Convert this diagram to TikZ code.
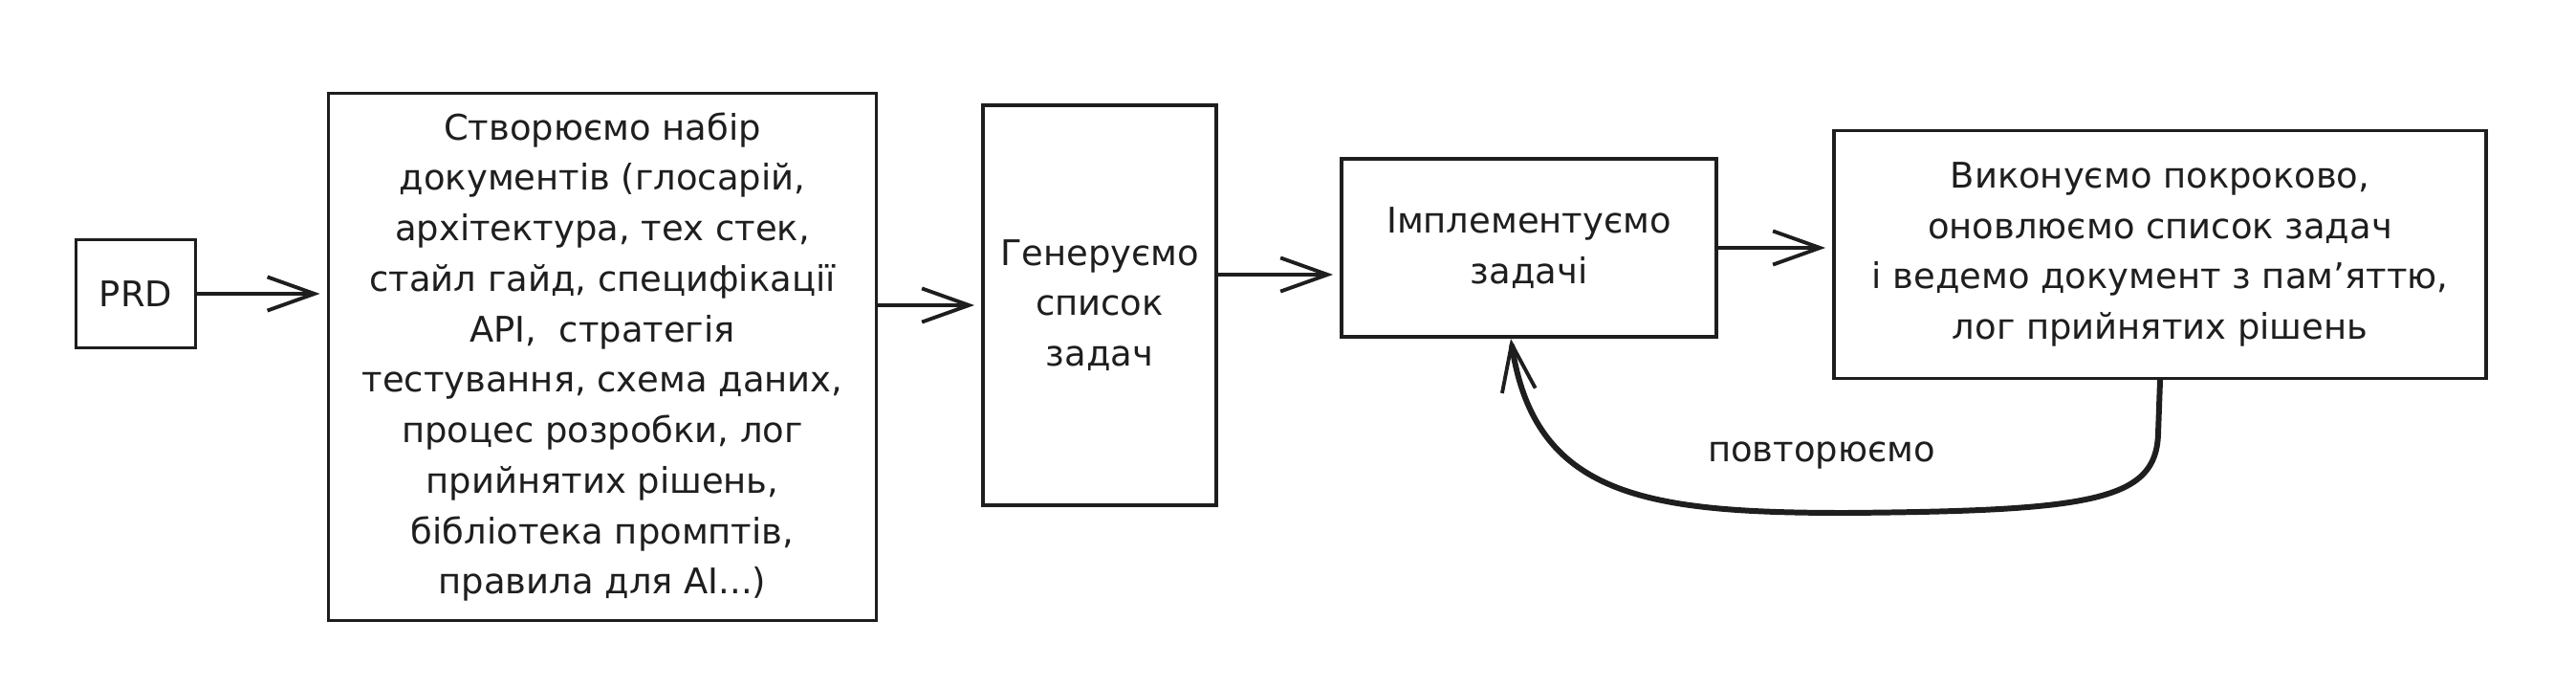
\documentclass[tikz,border=0pt]{standalone}
\usepackage{fontspec}
\setmainfont{DejaVu Sans}
\usetikzlibrary{arrows.meta}
\definecolor{ink}{HTML}{1E1E1E}
\begin{document}
\begin{tikzpicture}[
        box/.style={draw=ink, line width=1.1pt, text=ink, inner sep=0pt, align=center,
            font=\fontsize{10.5}{15}\selectfont},
        flow/.style={draw=ink, line width=1.1pt, line cap=round,
            -{Straight Barb[length=14pt, width=10pt, line width=1.1pt]}, shorten >=0.07cm},
        backline/.style={flow, line width=1.7pt},
        note/.style={text=ink, font=\fontsize{10.5}{15}\selectfont}
    ]
    \useasboundingbox (0, 0) rectangle (26.94, 7.18);
    \node[box, minimum width=1.25cm, minimum height=1.13cm] (prd) at (1.42, 4.11) {PRD};
    \node[box, minimum width=5.73cm, minimum height=5.51cm] (docs) at (6.30, 3.45)
        {Створюємо набір\\ документів (глосарій,\\ архітектура, тех стек,\\
         стайл гайд, специфікації\\ API,~ стратегія\\ тестування, схема даних,\\
         процес розробки, лог\\ прийнятих рішень,\\ бібліотека промптів,\\ правила для AI...)};
    \node[box, minimum width=2.44cm, minimum height=4.18cm] (gen) at (11.50, 3.99)
        {Генеруємо\\ список\\ задач};
    \node[box, minimum width=3.92cm, minimum height=1.86cm] (impl) at (15.99, 4.59)
        {Імплементуємо\\ задачі};
    \node[box, minimum width=6.82cm, minimum height=2.59cm] (exec) at (22.59, 4.52)
        {Виконуємо покроково,\\ оновлюємо список задач\\ і ведемо документ з памʼяттю,\\
         лог прийнятих рішень};
    % forward arrows
    \draw[flow] (prd.east) -- (prd.east -| docs.west);
    \draw[flow] (gen.west -| docs.east) -- (gen.west);
    \draw[flow] ([yshift=0.32cm]gen.east) -- ([yshift=0.32cm]gen.east -| impl.west);
    \draw[flow] (impl.east) -- (impl.east -| exec.west);
    % repeat loop
    \coordinate (turn) at (22.57, 2.65);
    \coordinate (bottom) at (19.30, 1.82);
    \draw[backline, shorten >=0pt] (exec.south) -- (turn)
        .. controls (22.55, 1.95) and (21.90, 1.84) .. (bottom)
        .. controls (17.20, 1.82) and (16.05, 2.00) .. ([xshift=-0.19cm]impl.south);
    \node[note] (again) at (19.05, 2.42) {повторюємо};
\end{tikzpicture}
\end{document}
